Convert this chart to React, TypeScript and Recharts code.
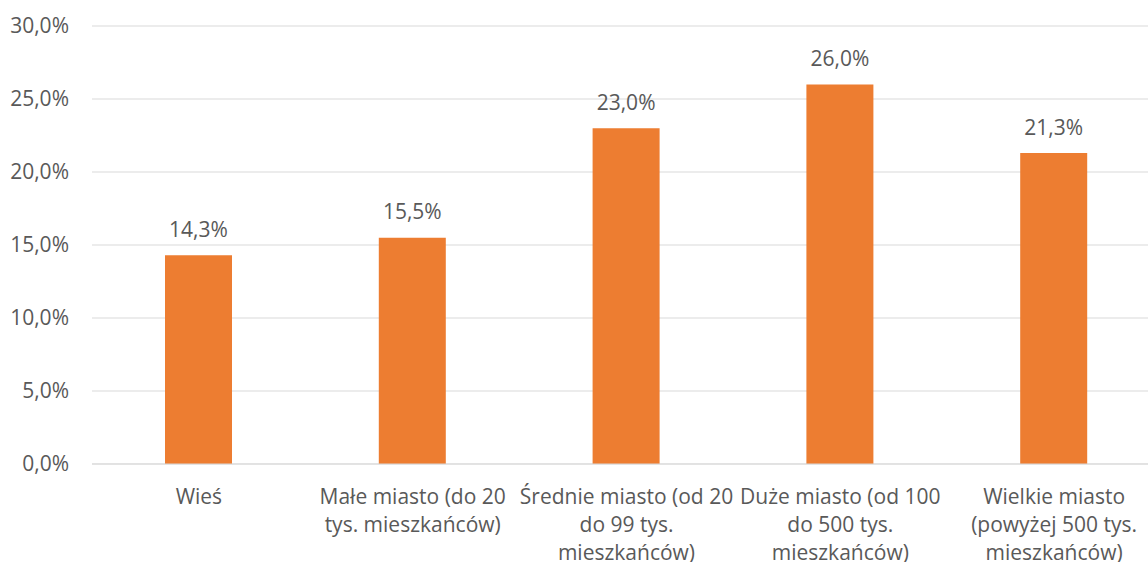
import { BarChart, Bar, XAxis, YAxis, CartesianGrid, LabelList } from 'recharts';

const categories = [
  'Wieś',
  'Małe miasto (do 20\ntys. mieszkańców)',
  'Średnie miasto (od 20\ndo 99 tys.\nmieszkańców)',
  'Duże miasto (od 100\ndo 500 tys.\nmieszkańców)',
  'Wielkie miasto\n(powyżej 500 tys.\nmieszkańców)',
];
const shares = [14.3, 15.5, 23.0, 26.0, 21.3];
const yTicks = [0, 5, 10, 15, 20, 25, 30];

const data = categories.map((name, i) => ({ name, value: shares[i] }));

const FONT = '"Open Sans", sans-serif';
const TEXT = '#595959';
const GRID = '#d9d9d9';
const pct = (v: number) => `${v.toFixed(1).replace('.', ',')}%`;

function XTick({ x, y, payload }: any) {
  const lines = String(payload.value).split('\n');
  return (
    <text x={x} y={y + 40} textAnchor="middle" fill={TEXT} fontFamily={FONT} fontSize={21}>
      {lines.map((l, i) => <tspan key={i} x={x} dy={i === 0 ? 0 : 28}>{l}</tspan>)}
    </text>
  );
}

function YTick({ x, y, payload }: any) {
  return (
    <text x={x - 23} y={y + 7} textAnchor="end" fill={TEXT} fontFamily={FONT} fontSize={21}>
      {pct(payload.value)}
    </text>
  );
}

function ValueLabel({ x, y, width, value }: any) {
  return (
    <text x={x + width / 2} y={y - 18.5} textAnchor="middle" fill={TEXT} fontFamily={FONT} fontSize={21}>
      {pct(value)}
    </text>
  );
}

export default function App() {
  return (
    <div style={{ position: 'fixed', left: 0, top: 0, width: 1148, height: 562, overflow: 'hidden', background: '#fff' }}>
      <BarChart width={1161} height={562} data={data} margin={{ top: 26, right: 0, bottom: 0, left: 0 }} barSize={67}>
        <CartesianGrid vertical={false} stroke={GRID} />
        <XAxis dataKey="name" height={98} interval={0} tickSize={0} tickMargin={0} tickLine={false} axisLine={{ stroke: GRID }} tick={<XTick />} />
        <YAxis width={92} domain={[0, 30]} ticks={yTicks} tickSize={0} tickMargin={0} tickLine={false} axisLine={false} tick={<YTick />} />
        <Bar dataKey="value" fill="#ED7D31" isAnimationActive={false}>
          <LabelList dataKey="value" content={<ValueLabel />} />
        </Bar>
      </BarChart>
    </div>
  );
}
